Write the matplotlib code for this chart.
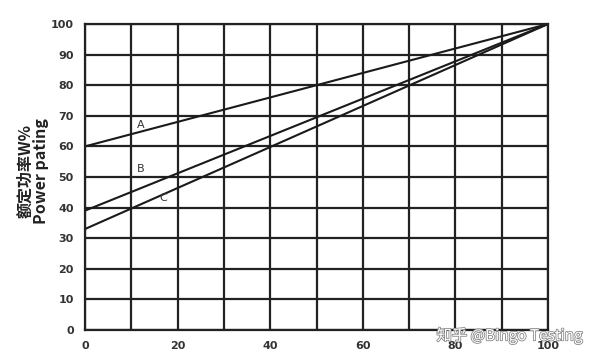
import matplotlib
matplotlib.use("Agg")
import matplotlib.pyplot as plt
import matplotlib.patheffects as pe
import numpy as np

# Curvas de derating: potencia nominal (%) frente a temperatura
x_pts = [0, 100]
curve_a = [60, 100]
curve_b = [39, 100]
curve_c = [33, 100]
curve_labels = ["A", "B", "C"]
label_pos = [(12, 67), (12, 52.5), (17, 43)]

x_ticks = [0, 20, 40, 60, 80, 100]
y_ticks = list(range(0, 101, 10))

plt.rcParams["font.family"] = ["DejaVu Sans", "Noto Sans CJK SC"]

fig = plt.figure(figsize=(5.96, 3.63), dpi=100)
ax = fig.add_axes([0.1426, 0.0909, 0.7769, 0.843])

for xv in range(0, 101, 10):
    ax.axvline(xv, color="#222222", lw=1.6, zorder=1)
for yv in y_ticks:
    ax.axhline(yv, color="#222222", lw=1.6, zorder=1)

for ys in (curve_a, curve_b, curve_c):
    ax.plot(x_pts, ys, color="#1a1a1a", lw=1.5, zorder=2)

for lab, (lx, ly) in zip(curve_labels, label_pos):
    ax.text(lx, ly, lab, fontsize=8, color="#333333", ha="center", va="center")

ax.set_xlim(0, 100)
ax.set_ylim(0, 100)
ax.set_xticks(x_ticks)
ax.set_yticks(y_ticks)
ax.tick_params(length=0, pad=8, labelsize=8, colors="#333333")
for t in ax.get_xticklabels() + ax.get_yticklabels():
    t.set_fontweight("bold")
for sp in ax.spines.values():
    sp.set_linewidth(1.6)
    sp.set_color("#222222")

ax.set_ylabel("额定功率W%\nPower pating", fontsize=11.5, fontweight="bold",
              color="#222222", linespacing=0.95,
              family=["Noto Sans CJK SC", "DejaVu Sans"])
ax.yaxis.set_label_coords(-0.078, 0.52)

fig.text(0.855, 0.075, "知乎 @Bingo Testing", fontsize=11, color="white",
         ha="center", va="center", family=["Noto Sans CJK SC", "DejaVu Sans"],
         path_effects=[pe.withStroke(linewidth=1.2, foreground="#888888")])

fig.savefig("out.png", dpi=100)
